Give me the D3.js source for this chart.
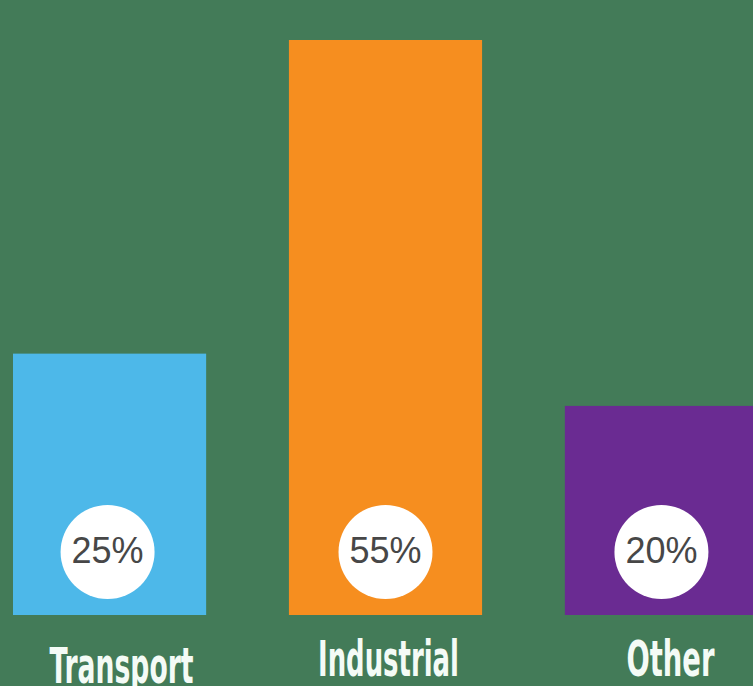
<!DOCTYPE html>
<html>
<head>
<meta charset="utf-8">
<script src="https://cdn.jsdelivr.net/npm/d3@7"></script>
<style>
html,body{margin:0;padding:0;background:#437b58;}
svg{display:block;}
</style>
</head>
<body>
<svg id="chart" width="753" height="686"></svg>
<script>
const categories = ["Transport", "Industrial", "Other"];
const values = [25, 55, 20];
const valueLabels = ["25%", "55%", "20%"];
const colors = ["#4db8e9", "#f68e1f", "#6a2b92"];
const labelWidths = [144, 141, 88];

const svg = d3.select("#chart");
svg.append("rect").attr("width", 753).attr("height", 686).attr("fill", "#437b58");

const x = d3.scaleBand().domain(categories).range([13, 758]).paddingInner(0.3).paddingOuter(0);
const y = d3.scaleLinear().domain([0, 55]).range([615, 40]);

const data = categories.map((c, i) => ({c, v: values[i], lab: valueLabels[i], col: colors[i], w: labelWidths[i]}));

svg.selectAll("rect.bar").data(data).enter().append("rect")
  .attr("class", "bar")
  .attr("x", d => x(d.c))
  .attr("y", d => y(d.v))
  .attr("width", x.bandwidth())
  .attr("height", d => y(0) - y(d.v))
  .attr("fill", d => d.col);

svg.selectAll("circle.badge").data(data).enter().append("circle")
  .attr("class", "badge")
  .attr("cx", (d, i) => x(d.c) + x.bandwidth() / 2 + (i === 0 ? -2 : 0))
  .attr("cy", 552)
  .attr("r", 47)
  .attr("fill", "#ffffff");

svg.selectAll("text.val").data(data).enter().append("text")
  .attr("class", "val")
  .attr("x", (d, i) => x(d.c) + x.bandwidth() / 2 + (i === 0 ? -2 : 0))
  .attr("y", 563)
  .attr("text-anchor", "middle")
  .attr("font-family", "Liberation Sans, Arial, sans-serif")
  .attr("font-size", 36)
  .attr("fill", "#474747")
  .text(d => d.lab);

svg.selectAll("text.cat").data(data).enter().append("text")
  .attr("class", "cat")
  .attr("x", (d, i) => x(d.c) + x.bandwidth() / 2 + (i === 0 ? 12 : (i === 2 ? 9 : 3)))
  .attr("y", (d, i) => i === 0 ? 683 : 676)
  .attr("text-anchor", "middle")
  .attr("font-family", "Liberation Sans Narrow, DejaVu Sans Condensed, sans-serif")
  .attr("font-weight", "bold")
  .attr("font-size", 49)
  .attr("textLength", d => d.w)
  .attr("lengthAdjust", "spacingAndGlyphs")
  .attr("fill", "#f4fbf6")
  .text(d => d.c);
</script>
</body>
</html>
